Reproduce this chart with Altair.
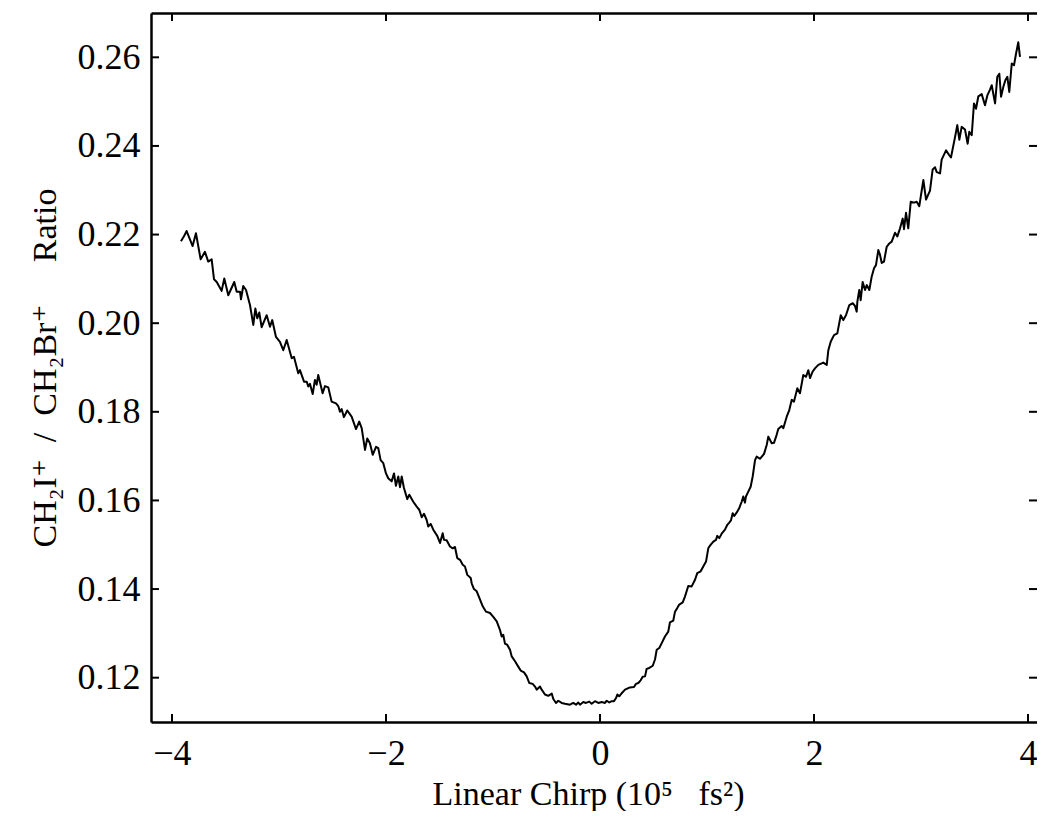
import altair as alt
import pandas as pd

chirp = [
-3.916, -3.888, -3.863, -3.807, -3.776, -3.732, -3.692, -3.661, -3.629, -3.607,
-3.582, -3.536, -3.511, -3.474, -3.418, -3.395, -3.364, -3.355, -3.334, -3.308,
-3.271, -3.240, -3.221, -3.203, -3.184, -3.162, -3.115, -3.084, -3.063, -3.028,
-2.991, -2.960, -2.928, -2.881, -2.860, -2.820, -2.804, -2.766, -2.741, -2.726,
-2.710, -2.685, -2.664, -2.648, -2.633, -2.592, -2.570, -2.539, -2.508, -2.467,
-2.446, -2.430, -2.414, -2.393, -2.362, -2.321, -2.280, -2.250, -2.227, -2.196,
-2.175, -2.150, -2.124, -2.093, -2.072, -2.050, -2.025, -2.000, -1.979, -1.947,
-1.925, -1.907, -1.885, -1.869, -1.853, -1.832, -1.801, -1.782, -1.745, -1.713,
-1.689, -1.666, -1.645, -1.620, -1.605, -1.582, -1.558, -1.521, -1.495, -1.470,
-1.458, -1.433, -1.402, -1.377, -1.355, -1.334, -1.308, -1.283, -1.262, -1.240,
-1.208, -1.199, -1.178, -1.152, -1.121, -1.096, -1.065, -1.028, -0.997, -0.965,
-0.935, -0.919, -0.904, -0.888, -0.866, -0.841, -0.825, -0.794, -0.764, -0.741,
-0.710, -0.685, -0.661, -0.629, -0.607, -0.592, -0.561, -0.545, -0.514, -0.483,
-0.451, -0.436, -0.411, -0.390, -0.358, -0.327, -0.280, -0.250, -0.224, -0.203,
-0.187, -0.156, -0.131, -0.100, -0.078, -0.047, -0.016, 0.016, 0.047, 0.063,
0.087, 0.109, 0.131, 0.150, 0.162, 0.180, 0.203, 0.234, 0.280, 0.318,
0.336, 0.358, 0.380, 0.399, 0.421, 0.436, 0.461, 0.493, 0.514, 0.530,
0.554, 0.577, 0.607, 0.638, 0.654, 0.685, 0.701, 0.722, 0.741, 0.773,
0.794, 0.825, 0.857, 0.888, 0.909, 0.941, 0.965, 0.991, 1.012, 1.028,
1.059, 1.084, 1.096, 1.115, 1.137, 1.168, 1.190, 1.208, 1.224, 1.240,
1.255, 1.278, 1.302, 1.324, 1.339, 1.355, 1.364, 1.386, 1.408, 1.427,
1.449, 1.464, 1.495, 1.533, 1.558, 1.573, 1.605, 1.626, 1.651, 1.666,
1.698, 1.713, 1.745, 1.769, 1.792, 1.813, 1.844, 1.869, 1.900, 1.925,
1.947, 1.963, 1.988, 2.009, 2.040, 2.087, 2.119, 2.134, 2.156, 2.187,
2.218, 2.236, 2.250, 2.274, 2.299, 2.330, 2.362, 2.383, 2.399, 2.405,
2.423, 2.436, 2.455, 2.477, 2.493, 2.517, 2.539, 2.561, 2.579, 2.601,
2.617, 2.633, 2.654, 2.679, 2.704, 2.726, 2.757, 2.779, 2.804, 2.829,
2.841, 2.860, 2.881, 2.904, 2.935, 2.960, 2.984, 3.007, 3.022, 3.047,
3.084, 3.109, 3.131, 3.147, 3.178, 3.193, 3.234, 3.264, 3.280, 3.318,
3.339, 3.358, 3.380, 3.411, 3.436, 3.451, 3.474, 3.495, 3.514, 3.536,
3.567, 3.598, 3.620, 3.645, 3.661, 3.692, 3.713, 3.732, 3.748, 3.769,
3.788, 3.807, 3.825, 3.848, 3.869, 3.888, 3.909, 3.925]

ratio = [
0.2185, 0.2196, 0.2208, 0.2174, 0.2203, 0.2144, 0.2161, 0.2139, 0.2144, 0.2099,
0.2093, 0.2073, 0.2101, 0.2063, 0.2093, 0.2071, 0.2071, 0.2054, 0.2084, 0.2075,
0.2041, 0.1996, 0.2033, 0.2011, 0.2024, 0.1991, 0.2018, 0.1992, 0.2007, 0.1969,
0.1958, 0.1939, 0.1962, 0.1921, 0.1924, 0.1887, 0.1894, 0.1868, 0.1868, 0.1857,
0.1863, 0.1840, 0.1872, 0.1861, 0.1883, 0.1842, 0.1858, 0.1855, 0.1823, 0.1819,
0.1813, 0.1800, 0.1806, 0.1788, 0.1803, 0.1789, 0.1761, 0.1778, 0.1763, 0.1714,
0.1740, 0.1729, 0.1703, 0.1721, 0.1718, 0.1691, 0.1684, 0.1661, 0.1650, 0.1643,
0.1661, 0.1633, 0.1654, 0.1630, 0.1654, 0.1628, 0.1603, 0.1613, 0.1597, 0.1586,
0.1579, 0.1562, 0.1570, 0.1556, 0.1541, 0.1547, 0.1534, 0.1520, 0.1504, 0.1526,
0.1511, 0.1510, 0.1496, 0.1492, 0.1495, 0.1470, 0.1466, 0.1455, 0.1451, 0.1432,
0.1425, 0.1413, 0.1400, 0.1395, 0.1376, 0.1361, 0.1349, 0.1346, 0.1337, 0.1327,
0.1308, 0.1293, 0.1297, 0.1277, 0.1274, 0.1263, 0.1248, 0.1237, 0.1225, 0.1216,
0.1212, 0.1203, 0.1188, 0.1186, 0.1180, 0.1173, 0.1180, 0.1173, 0.1162, 0.1159,
0.1164, 0.1152, 0.1143, 0.1148, 0.1143, 0.1141, 0.1139, 0.1143, 0.1139, 0.1144,
0.1139, 0.1145, 0.1143, 0.1146, 0.1141, 0.1147, 0.1143, 0.1145, 0.1143, 0.1148,
0.1144, 0.1147, 0.1147, 0.1154, 0.1162, 0.1158, 0.1165, 0.1173, 0.1178, 0.1179,
0.1186, 0.1188, 0.1194, 0.1202, 0.1203, 0.1220, 0.1222, 0.1227, 0.1241, 0.1263,
0.1267, 0.1278, 0.1293, 0.1304, 0.1325, 0.1329, 0.1349, 0.1357, 0.1365, 0.1370,
0.1383, 0.1407, 0.1406, 0.1421, 0.1436, 0.1440, 0.1451, 0.1462, 0.1492, 0.1498,
0.1507, 0.1511, 0.1520, 0.1515, 0.1525, 0.1534, 0.1545, 0.1550, 0.1555, 0.1571,
0.1565, 0.1573, 0.1583, 0.1597, 0.1609, 0.1595, 0.1609, 0.1620, 0.1631, 0.1654,
0.1691, 0.1699, 0.1694, 0.1705, 0.1725, 0.1744, 0.1729, 0.1730, 0.1748, 0.1761,
0.1768, 0.1763, 0.1789, 0.1804, 0.1827, 0.1823, 0.1853, 0.1842, 0.1883, 0.1879,
0.1894, 0.1876, 0.1891, 0.1898, 0.1906, 0.1911, 0.1906, 0.1939, 0.1958, 0.1973,
0.1977, 0.2000, 0.2018, 0.2007, 0.2018, 0.2041, 0.2045, 0.2039, 0.2026, 0.2048,
0.2075, 0.2052, 0.2093, 0.2075, 0.2086, 0.2075, 0.2105, 0.2124, 0.2131, 0.2165,
0.2154, 0.2136, 0.2139, 0.2172, 0.2180, 0.2184, 0.2204, 0.2196, 0.2214, 0.2236,
0.2212, 0.2249, 0.2214, 0.2274, 0.2272, 0.2274, 0.2264, 0.2300, 0.2323, 0.2279,
0.2299, 0.2347, 0.2352, 0.2341, 0.2338, 0.2369, 0.2390, 0.2379, 0.2374, 0.2420,
0.2447, 0.2414, 0.2443, 0.2437, 0.2405, 0.2432, 0.2424, 0.2496, 0.2484, 0.2512,
0.2517, 0.2492, 0.2514, 0.2527, 0.2537, 0.2496, 0.2556, 0.2563, 0.2511, 0.2533,
0.2548, 0.2556, 0.2522, 0.2586, 0.2582, 0.2608, 0.2634, 0.2601]

x_ticks = [-4, -2, 0, 2, 4]
y_ticks = [0.12, 0.14, 0.16, 0.18, 0.20, 0.22, 0.24, 0.26]
NB = "\u00a0"
x_title = "Linear Chirp (10\u2075" + NB * 3 + "fs\u00b2)"
y_title = "CH\u2082I\u207a" + NB * 2 + "/" + NB * 2 + "CH\u2082Br\u207a" + NB * 5 + "Ratio"

df = pd.DataFrame({"chirp": chirp, "ratio": ratio, "idx": list(range(len(chirp)))})
xt = pd.DataFrame({"v": x_ticks})
yt = pd.DataFrame({"v": y_ticks})

FONT = "Liberation Serif, DejaVu Serif, serif"
W, H = 886, 709
TL = 8          # tick length (px)
SW = 2.5        # spine width

xs = alt.Scale(domain=[-4.196, 4.084], nice=False, zero=False)
ys = alt.Scale(domain=[0.11, 0.27], nice=False, zero=False)

common = dict(grid=False, ticks=False, tickSize=0, domainColor="black",
              domainWidth=SW, labelFont=FONT, labelFontSize=36, labelColor="black")

main = alt.Chart(df).mark_line(color="black", strokeWidth=2, strokeJoin="round").encode(
    x=alt.X("chirp:Q", scale=xs, axis=alt.Axis(
        orient="bottom", values=x_ticks, format="d", labelPadding=14,
        title=x_title, titleFont=FONT, titleFontSize=34, titleFontWeight="normal",
        titleColor="black", titleX=437, titleY=82, titleBaseline="alphabetic",
        titleAlign="center", **common)),
    y=alt.Y("ratio:Q", scale=ys, axis=alt.Axis(
        orient="left", values=y_ticks, format=".2f", labelPadding=11,
        title=y_title, titleFont=FONT, titleFontSize=34, titleFontWeight="normal",
        titleColor="black", titleX=-96, titleY=H / 2, titleBaseline="alphabetic",
        titleAlign="center", titleAngle=-90, **common)),
    order="idx:Q",
)

# top spine (axis line only)
frame = alt.Chart(df).mark_line(opacity=0).encode(
    x=alt.X("chirp:Q", scale=xs, axis=alt.Axis(
        orient="top", labels=False, title=None, **common)),
    y=alt.Y("ratio:Q", scale=ys, axis=None),
    order="idx:Q",
)

tk = dict(color="black", strokeWidth=2)
bottom_ticks = alt.Chart(xt).mark_rule(**tk).encode(
    x=alt.X("v:Q", scale=xs, axis=None), y=alt.value(H), y2=alt.value(H - TL))
top_ticks = alt.Chart(xt).mark_rule(**tk).encode(
    x=alt.X("v:Q", scale=xs, axis=None), y=alt.value(0), y2=alt.value(TL))
left_ticks = alt.Chart(yt).mark_rule(**tk).encode(
    y=alt.Y("v:Q", scale=ys, axis=None), x=alt.value(0), x2=alt.value(TL))
right_ticks = alt.Chart(yt).mark_rule(**tk).encode(
    y=alt.Y("v:Q", scale=ys, axis=None), x=alt.value(W), x2=alt.value(W - TL))

chart = alt.layer(main, frame, bottom_ticks, top_ticks, left_ticks, right_ticks).resolve_axis(
    x="independent", y="independent").properties(
    width=W, height=H,
    autosize=alt.AutoSizeParams(type="none"),
    padding={"left": 143, "top": 5, "right": 0, "bottom": 89},
    background="white",
).configure_view(stroke=None)

chart.save("out.html", embed_options={"renderer": "svg", "actions": False})
